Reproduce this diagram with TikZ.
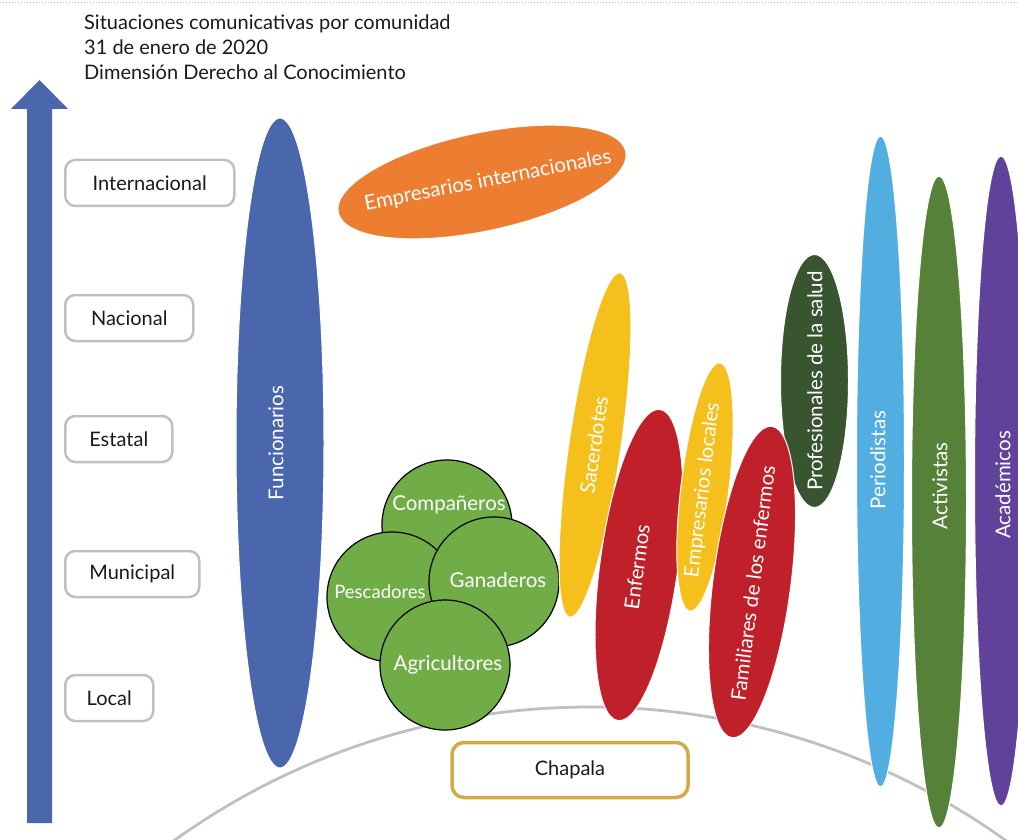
\documentclass[tikz,border=0pt]{standalone}
\usepackage{fontspec}
\setmainfont{Lato}
\usetikzlibrary{shapes.geometric}
\definecolor{arrowblue}{HTML}{4A66AD}
\definecolor{orangeE}{HTML}{ED7D31}
\definecolor{greenC}{HTML}{70AD47}
\definecolor{yellowE}{HTML}{F5BF1C}
\definecolor{redE}{HTML}{C0202A}
\definecolor{darkgreenE}{HTML}{38552F}
\definecolor{lightblueE}{HTML}{52AEE1}
\definecolor{activgreen}{HTML}{558139}
\definecolor{purpleE}{HTML}{60429A}
\definecolor{levelgray}{HTML}{C0C0C0}
\definecolor{goldE}{HTML}{D2AA48}
\definecolor{textdark}{HTML}{1A1A1A}
\tikzset{
  blob/.style={ellipse, draw=white, line width=1pt, inner sep=0pt},
  lbl/.style={text=white, inner sep=0pt, font=\fontsize{20.5}{23}\selectfont},
  levelbox/.style={draw=levelgray, line width=2.5pt, rounded corners=10pt, fill=white,
    minimum height=46pt, inner sep=0pt, anchor=west, text=textdark,
    font=\fontsize{20}{23}\selectfont},
  group/.style={circle, draw=black, line width=1.2pt, fill=greenC, minimum size=130pt, inner sep=0pt},
  titletext/.style={anchor=base west, inner sep=0pt, text=textdark, font=\fontsize{20}{24}\selectfont},
}
\begin{document}
\begin{tikzpicture}[x=1pt,y=-1pt]
\useasboundingbox (0,0) rectangle (1018,840);
% top dotted rule
\draw[gray!55, line width=0.8pt, dash pattern=on 1pt off 2pt] (0,2) -- (1018,2);
% title
\node[titletext] (t1) at (84,30) {Situaciones comunicativas por comunidad};
\node[titletext] (t2) at (84,55) {31 de enero de 2020};
\node[titletext] (t3) at (84,80) {Dimensión Derecho al Conocimiento};
% big grey arc
\begin{scope}
\clip (0,0) rectangle (1018,840);
\draw[levelgray, line width=2.8pt] (590,1421) circle (714pt);
\end{scope}
% vertical arrow
\fill[arrowblue] (27,823) -- (27,109) -- (11,109) -- (39.5,80) -- (68,109) -- (52,109) -- (52,823) -- cycle;
% level boxes
\node[levelbox, minimum width=169pt] (int) at (64,183) {Internacional};
\node[levelbox, minimum width=128pt] (nac) at (64,318) {Nacional};
\node[levelbox, minimum width=107pt] (est) at (64,439) {Estatal};
\node[levelbox, minimum width=134pt] (mun) at (64,574) {Municipal};
\node[levelbox, minimum width=88pt] (loc) at (64,698) {Local};
% Funcionarios
\node[blob, fill=arrowblue, minimum width=650pt, minimum height=88pt, rotate=90] (fun) at (280,443) {};
\node[lbl, rotate=90] (fun-t) at (276,443) {Funcionarios};
% Empresarios internacionales
\node[blob, fill=orangeE, minimum width=294pt, minimum height=98pt, rotate=12] (ei) at (482,182) {};
\node[lbl, rotate=11] (ei-t) at (488,181) {Empresarios internacionales};
% green circles
\node[group] (comp) at (447,525) {};
\node[group] (pesc) at (392,597) {};
\node[group] (gan) at (494,582) {};
\node[group] (agr) at (445,665) {};
\node[lbl] (comp-t) at (449,505) {Compañeros};
\node[lbl, font=\fontsize{18.5}{21}\selectfont] (pesc-t) at (380,592) {Pescadores};
\node[lbl] (gan-t) at (498,580) {Ganaderos};
\node[lbl] (agr-t) at (448,665) {Agricultores};
% tilted ellipses
\node[blob, fill=yellowE, minimum width=348pt, minimum height=52pt, rotate=81.7] (sac) at (595,445) {};
\node[lbl, rotate=81.7] (sac-t) at (594,445) {Sacerdotes};
\node[blob, fill=redE, minimum width=314pt, minimum height=78pt, rotate=82.3] (enf) at (639,565) {};
\node[lbl, rotate=82.3] (enf-t) at (637,567) {Enfermos};
\node[blob, fill=yellowE, minimum width=250pt, minimum height=48pt, rotate=83.1] (el) at (705,487) {};
\node[lbl, rotate=83.1] (el-t) at (703,490) {Empresarios locales};
\node[blob, fill=darkgreenE, minimum width=253pt, minimum height=68pt, rotate=90] (prof) at (814.5,381) {};
\node[lbl, rotate=90] (prof-t) at (815,381) {Profesionales de la salud};
\node[blob, fill=redE, minimum width=314pt, minimum height=78pt, rotate=82.7] (fam) at (752,582) {};
\node[lbl, rotate=82.7] (fam-t) at (753,583) {Familiares de los enfermos};
% tall ellipses
\node[blob, fill=lightblueE, minimum width=651pt, minimum height=48pt, rotate=90] (per) at (880.5,461.5) {};
\node[lbl, rotate=90] (per-t) at (878,460) {Periodistas};
\node[blob, fill=activgreen, minimum width=652pt, minimum height=55pt, rotate=90] (act) at (939,502) {};
\node[lbl, rotate=90] (act-t) at (940,486) {Activistas};
\node[blob, fill=purpleE, minimum width=650pt, minimum height=53pt, rotate=90] (aca) at (1001,481) {};
\node[lbl, rotate=90] (aca-t) at (1003,485) {Académicos};
% Chapala
\node[draw=goldE, line width=3.5pt, rounded corners=12pt, fill=white, minimum width=236pt,
  minimum height=55pt, inner sep=0pt, text=textdark, font=\fontsize{20}{23}\selectfont] (cha) at (570,770) {Chapala};
\end{tikzpicture}
\end{document}
